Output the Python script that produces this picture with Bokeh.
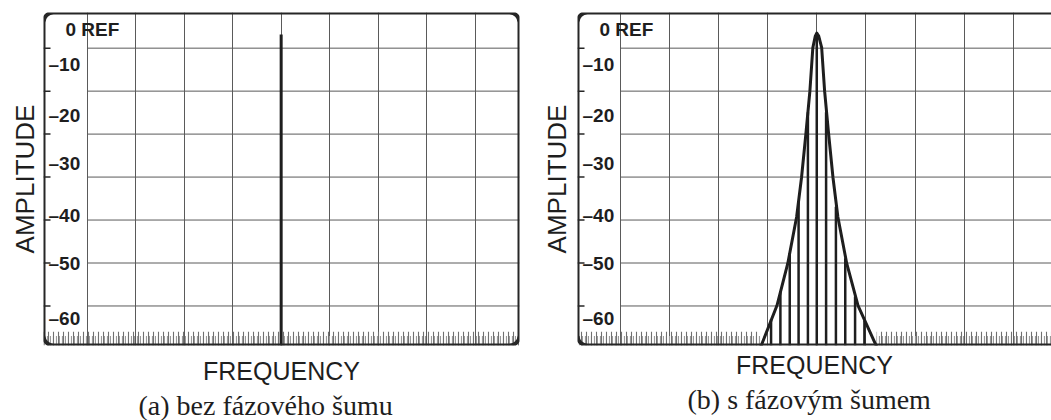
from bokeh.plotting import figure
from bokeh.layouts import row
from bokeh.models import Range1d, FixedTicker, LinearAxis, Title, Grid, BoxAnnotation
from bokeh.core.properties import value
from bokeh.embed import file_html
from bokeh.resources import INLINE

# ---------------- data ----------------
db_ticks = [-10, -20, -30, -40, -50, -60, -70]           # graticule lines, dB
level_labels = ["0 REF", "–10", "–20", "–30", "–40", "–50", "–60"]
freq_grid = [1, 2, 3, 4, 5, 6, 7, 8, 9]                    # vertical graticule (divisions)
noise_top_db = -76.0                                       # top of the noise floor band
noise_low_db = -77.0                                       # shorter noise strokes

# (a) pure carrier, no phase noise
carrier_x = [5.0]
carrier_db = [-6.8]

# (b) carrier with phase-noise skirts: envelope and spectral lines
skirt_x = [3.86, 4.19, 4.41, 4.59, 4.69, 4.78, 4.86, 4.92, 4.97, 5.0,
           5.04, 5.10, 5.16, 5.24, 5.33, 5.43, 5.61, 5.84, 6.22]
skirt_db = [-79.5, -69.9, -60.1, -49.3, -40.1, -29.8, -20.0, -9.9, -7.2, -6.5,
            -7.2, -9.9, -20.0, -29.8, -40.1, -49.3, -60.1, -69.9, -79.5]
line_x = [4.07, 4.26, 4.45, 4.63, 4.82, 5.0, 5.19, 5.39, 5.58, 5.78, 5.97]
line_db = [-73.1, -66.6, -57.7, -45.6, -24.9, -6.7, -24.9, -46.9, -58.9, -67.8, -73.4]

captions = ["(a) bez fázového šumu", "(b) s fázovým šumem"]

# ---------------- layout / style ----------------
DB_BOTTOM, DB_TOP = -79.2, -1.7
LABEL_Y = [-5.6, -13.7, -25.6, -36.8, -49.0, -60.0, -72.8]
FIG_H = 420
INK = "#1e1e1e"
FRAME = "#262626"
GRID = "#5a5a5a"
SANS = "Liberation Sans"


def edge_axis(**kw):
    return LinearAxis(ticker=FixedTicker(ticks=[]), major_tick_out=0, major_tick_in=0,
                      minor_tick_out=0, minor_tick_in=0, major_label_standoff=0,
                      axis_line_color=None, **kw)


def noise_band(p, lefts, rights):
    n = len(lefts)
    p.quad(left=lefts, right=rights, bottom=[DB_BOTTOM] * n, top=[noise_low_db] * n,
           fill_alpha=0, line_alpha=0, hatch_pattern="|", hatch_color="#9a9a9a",
           hatch_scale=3, hatch_weight=1.2)
    p.quad(left=lefts, right=rights, bottom=[DB_BOTTOM] * n, top=[noise_top_db] * n,
           fill_alpha=0, line_alpha=0, hatch_pattern="|", hatch_color="#707070",
           hatch_scale=5, hatch_weight=1.1)


def make_panel(width, x_start, x_end, box_right, left_b, right_b, top_b, frame_h,
               amp_standoff, freq_standoff, caption, cap_offset):
    p = figure(width=width, height=FIG_H, x_range=Range1d(x_start, x_end),
               y_range=Range1d(DB_BOTTOM, DB_TOP), output_backend="svg",
               toolbar_location=None, x_axis_type=None, y_axis_type=None,
               min_border_left=left_b, min_border_right=right_b, min_border_top=top_b,
               min_border_bottom=FIG_H - top_b - frame_h)
    p.outline_line_color = None
    p.background_fill_color = "white"
    p.border_fill_color = "white"

    # vertical graticule
    p.add_layout(Grid(dimension=0, ticker=FixedTicker(ticks=freq_grid),
                      grid_line_color=GRID, grid_line_width=1))
    # horizontal graticule starts at first vertical line (label column left free)
    p.segment(x0=[freq_grid[0]] * len(db_ticks), x1=[x_end] * len(db_ticks),
              y0=db_ticks, y1=db_ticks, line_color=GRID, line_width=1)
    # small inward ticks on the left edge of the screen
    p.ray(x=[x_start] * len(db_ticks), y=db_ticks, length=7, length_units="screen",
          angle=0, line_color=FRAME, line_width=1.5)

    # rounded screen bezel
    p.add_layout(BoxAnnotation(left=x_start, right=box_right, bottom=DB_BOTTOM, top=DB_TOP,
                               fill_alpha=0, line_color=FRAME, line_alpha=1.0, line_width=4,
                               border_radius=10, level="overlay"))

    left = edge_axis(axis_label="AMPLITUDE", axis_label_standoff=amp_standoff,
                     axis_label_text_font=SANS, axis_label_text_font_size="26px",
                     axis_label_text_font_style="normal", axis_label_text_color=INK)
    p.add_layout(left, "left")
    below = edge_axis(axis_label="FREQUENCY", axis_label_standoff=freq_standoff,
                      axis_label_text_font=SANS, axis_label_text_font_size="25px",
                      axis_label_text_font_style="normal", axis_label_text_color=INK)
    p.add_layout(below, "below")

    # level labels inside the frame
    p.text(x=[x_start] * (len(level_labels) - 1), y=LABEL_Y[1:], text=level_labels[1:],
           x_offset=5, text_baseline="middle", text_align="left",
           text_font=value(SANS), text_font_style="bold", text_font_size="19px",
           text_color=INK, level="overlay")
    p.text(x=[x_start], y=LABEL_Y[:1], text=level_labels[:1], x_offset=22,
           text_baseline="middle", text_align="left", text_font=value(SANS),
           text_font_style="bold", text_font_size="19px", text_color=INK, level="overlay")

    p.add_layout(Title(text=caption, align="left", offset=cap_offset, standoff=0,
                       text_font="Liberation Serif", text_font_size="28px",
                       text_font_style="normal", text_color=INK), "below")
    return p


# ---- panel (a) ----
pa = make_panel(538, 0.10, 9.914, 9.914, 43, 19, 10, 335, 4, 11, captions[0], 95)
noise_band(pa, [0.10], [9.914])
pa.segment(x0=carrier_x, x1=carrier_x, y0=[DB_BOTTOM], y1=carrier_db,
           line_color=INK, line_width=3)

# ---- panel (b) ----
pb = make_panel(513, 0.13, 9.778, 10.2, 39, 0, 12, 339, 6, 5, captions[1], 110)
noise_band(pb, [0.13, skirt_x[-1]], [skirt_x[0], 9.778])
pb.segment(x0=line_x, x1=line_x, y0=[DB_BOTTOM] * len(line_x), y1=line_db,
           line_color=INK, line_width=2.5)
pb.line(skirt_x, skirt_db, line_color=INK, line_width=3, line_join="round")

layout = row(pa, pb)
open("out.html", "w").write(file_html(layout, INLINE))
